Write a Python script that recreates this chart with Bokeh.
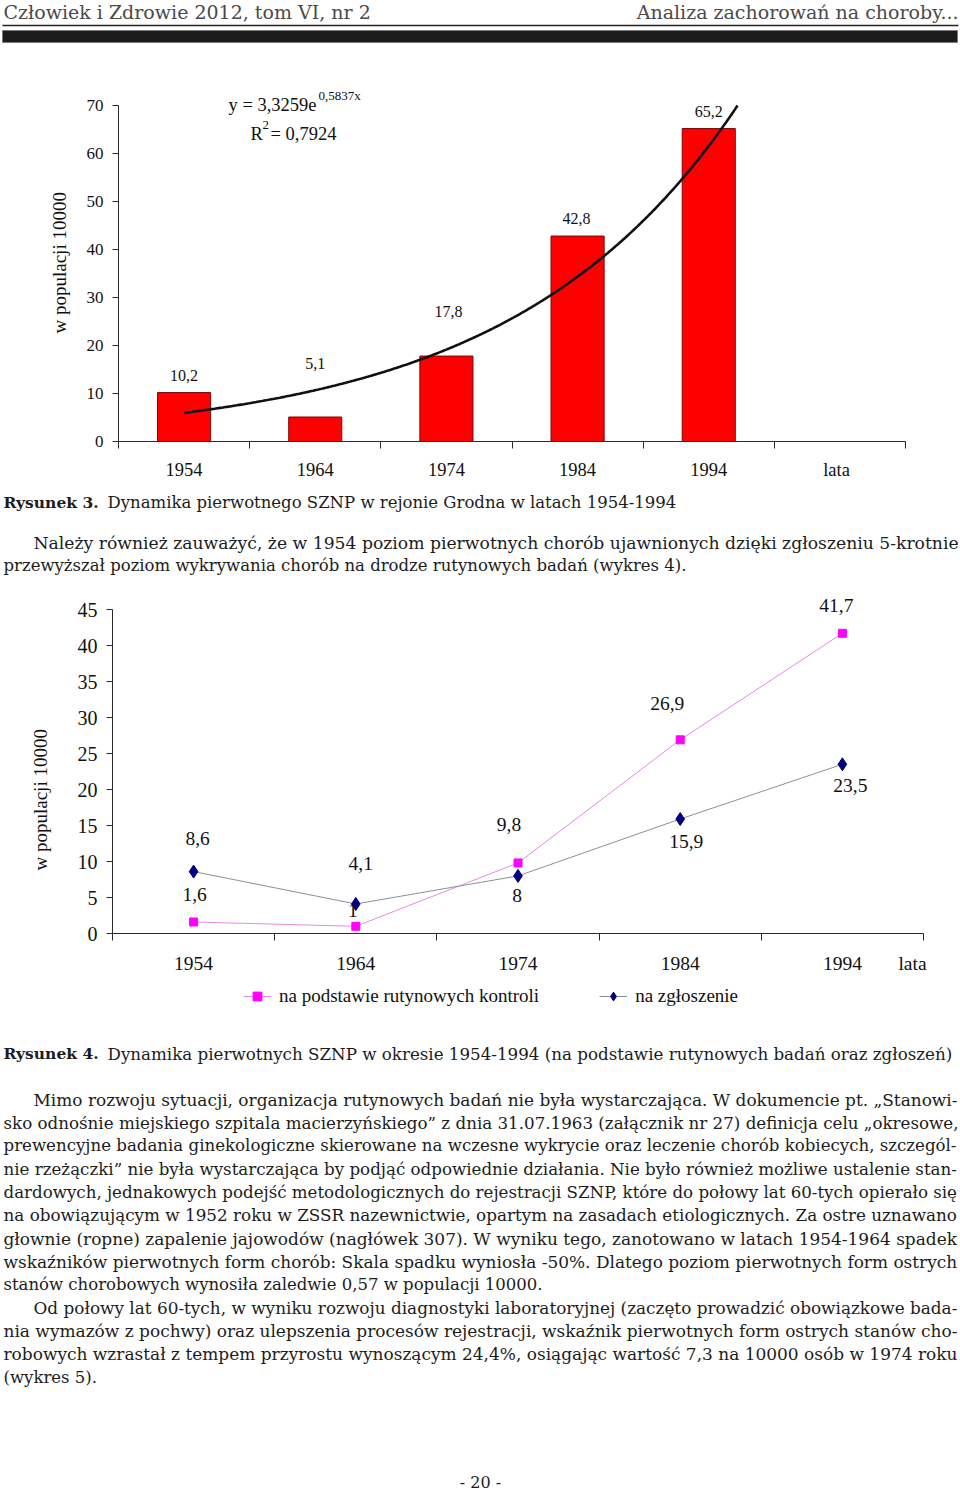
import numpy as np
from bokeh.plotting import figure
from bokeh.models import Range1d, FixedTicker, Label, Legend, LegendItem, Title
from bokeh.embed import file_html
from bokeh.resources import INLINE
from bokeh.core.properties import value

# ---------------- data ----------------
years = ["1954", "1964", "1974", "1984", "1994"]
x_unit_label = "lata"
y_title = "w populacji 10000"

# Rysunek 3 (bars + exponential trend)
fig3_values = [10.2, 5.1, 17.8, 42.8, 65.2]
fig3_labels = ["10,2", "5,1", "17,8", "42,8", "65,2"]
fig3_yticks = [0, 10, 20, 30, 40, 50, 60, 70]
trend_a = 3.3259
trend_b = 0.5837
trend_a_text = "3,3259"
trend_b_text = "0,5837x"
trend_r2_text = "0,7924"

# Rysunek 4 (two series)
routine_name = "na podstawie rutynowych kontroli"
routine_values = [1.6, 1.0, 9.8, 26.9, 41.7]
routine_labels = ["1,6", "1", "9,8", "26,9", "41,7"]
report_name = "na zgłoszenie"
report_values = [8.6, 4.1, 8.0, 15.9, 23.5]
report_labels = ["8,6", "4,1", "8", "15,9", "23,5"]
fig4_yticks = [0, 5, 10, 15, 20, 25, 30, 35, 40, 45]

# page texts
header_left = "Człowiek i Zdrowie 2012, tom VI, nr 2"
header_right = "Analiza zachorowań na choroby..."
cap3_bold = "Rysunek 3."
cap3_text = "Dynamika pierwotnego SZNP w rejonie Grodna w latach 1954-1994"
para1 = [
    "Należy również zauważyć, że w 1954 poziom pierwotnych chorób ujawnionych dzięki zgłoszeniu 5-krotnie",
    "przewyższał poziom wykrywania chorób na drodze rutynowych badań (wykres 4).",
]
cap4_bold = "Rysunek 4."
cap4_text = "Dynamika pierwotnych SZNP w okresie 1954-1994 (na podstawie rutynowych badań oraz zgłoszeń)"
para2 = [
    "Mimo rozwoju sytuacji, organizacja rutynowych badań nie była wystarczająca. W dokumencie pt. „Stanowi-",
    "sko odnośnie miejskiego szpitala macierzyńskiego” z dnia 31.07.1963 (załącznik nr 27) definicja celu „okresowe,",
    "prewencyjne badania ginekologiczne skierowane na wczesne wykrycie oraz leczenie chorób kobiecych, szczegól-",
    "nie rzeżączki” nie była wystarczająca by podjąć odpowiednie działania. Nie było również możliwe ustalenie stan-",
    "dardowych, jednakowych podejść metodologicznych do rejestracji SZNP, które do połowy lat 60-tych opierało się",
    "na obowiązującym w 1952 roku w ZSSR nazewnictwie, opartym na zasadach etiologicznych. Za ostre uznawano",
    "głownie (ropne) zapalenie jajowodów (nagłówek 307). W wyniku tego, zanotowano w latach 1954-1964 spadek",
    "wskaźników pierwotnych form chorób: Skala spadku wyniosła -50%. Dlatego poziom pierwotnych form ostrych",
    "stanów chorobowych wynosiła zaledwie 0,57 w populacji 10000.",
    "Od połowy lat 60-tych, w wyniku rozwoju diagnostyki laboratoryjnej (zaczęto prowadzić obowiązkowe bada-",
    "nia wymazów z pochwy) oraz ulepszenia procesów rejestracji, wskaźnik pierwotnych form ostrych stanów cho-",
    "robowych wzrastał z tempem przyrostu wynoszącym 24,4%, osiągając wartość 7,3 na 10000 osób w 1974 roku",
    "(wykres 5).",
]
para2_indent = [0, 9]
page_number = "- 20 -"

# ---------------- styles ----------------
W = 960
BODY = "DejaVu Serif"
CH = "Liberation Serif"
BODY_PX = 16.5
TXT_COL = "#1c1c1c"
AX_COL = "#2a2a2a"
# per-line font size factors that make justified lines reach the right margin
para1_fit = [1.042, 1.0]
para2_fit = [1.027, 1.013, 1.008, 1.011, 1.009, 1.018, 1.029, 1.028, 1.0,
             1.023, 1.029, 1.029, 1.0]
ROUTINE_LINE = dict(line_color="#E28BE2", line_width=1)
ROUTINE_MARK = dict(marker="square", size=8, fill_color="#FF00FF", line_color="#FF00FF")
REPORT_LINE = dict(line_color="#8E8E9E", line_width=1)
REPORT_MARK = dict(marker="diamond", size=13, fill_color="#000080", line_color="#000080")


def text_fig(h):
    p = figure(width=W, height=h, x_range=Range1d(0, W), y_range=Range1d(h, 0),
               output_backend="svg", toolbar_location=None, tools="",
               x_axis_location=None, y_axis_location=None, min_border=0)
    p.grid.visible = False
    p.outline_line_color = None
    return p


def txt(p, x, y, s, size=f"{BODY_PX}px", font=BODY, color=TXT_COL, style="normal", align="left"):
    p.text(x=[x], y=[y], text=[s], text_font=value(font), text_font_size=size,
           text_color=color, text_font_style=style, text_align=align,
           text_baseline="middle")


def chart_fig(h, xr, yr, bl, br, bt, bb):
    p = figure(width=W, height=h, x_range=xr, y_range=yr, output_backend="svg",
               toolbar_location=None, tools="", min_border_left=bl, min_border_right=br,
               min_border_top=bt, min_border_bottom=bb)
    p.grid.visible = False
    p.outline_line_color = None
    p.background_fill_color = "white"
    return p


def style_axes(p, n_slots, yticks, xtick_size, ytick_size, x_standoff, unit_x):
    xa = p.xaxis[0]
    major = [i + 1 for i in range(len(years))] + [unit_x]
    xa.ticker = FixedTicker(ticks=major, minor_ticks=[k + 0.5 for k in range(n_slots + 1)])
    overrides = {i + 1: y for i, y in enumerate(years)}
    overrides[unit_x] = x_unit_label
    xa.major_label_overrides = overrides
    xa.major_tick_out = 0
    xa.major_tick_in = 0
    xa.minor_tick_out = 7
    xa.minor_tick_in = 0
    xa.axis_line_color = AX_COL
    xa.minor_tick_line_color = AX_COL
    xa.major_label_standoff = x_standoff
    xa.major_label_text_font = CH
    xa.major_label_text_font_size = xtick_size
    xa.major_label_text_color = "#111111"
    ya = p.yaxis[0]
    ya.ticker = FixedTicker(ticks=yticks, minor_ticks=[])
    ya.bounds = (yticks[0], yticks[-1])
    ya.major_tick_out = 6
    ya.major_tick_in = 0
    ya.minor_tick_out = 0
    ya.minor_tick_in = 0
    ya.axis_line_color = AX_COL
    ya.major_tick_line_color = AX_COL
    ya.major_label_standoff = 9
    ya.major_label_text_font = CH
    ya.major_label_text_font_size = ytick_size
    ya.major_label_text_color = "#111111"


def lab(p, x, y, s, size, align="center"):
    p.add_layout(Label(x=x, y=y, text=s, text_font=CH, text_font_size=size,
                       text_color="#111111", text_align=align, text_baseline="middle"))


def ytitle(p, offset, standoff):
    p.add_layout(Title(text=y_title, align="left", offset=offset, standoff=standoff,
                       text_font=CH, text_font_size="19px", text_font_style="normal",
                       text_color="#111111"), "left")


# ---------------- header ----------------
hdr = text_fig(45)
txt(hdr, 3, 11, header_left, size="19px", color="#4a4a4a")
txt(hdr, 958, 11, header_right, size="19px", color="#4a4a4a", align="right")
hdr.segment(x0=[2], y0=[25], x1=[958], y1=[25], line_color="#222222", line_width=1.5)
hdr.quad(left=[2], right=[957], top=[30], bottom=[42], fill_color="#1b1b1b", line_color="#7a7a7a")

# ---------------- Rysunek 3 chart ----------------
n3 = len(years) + 1
S1X, S1Y = 787.0 / n3, 4.8          # px per slot, px per unit
c1 = chart_fig(445, Range1d(0.5, n3 + 0.5), Range1d(0, 356.0 / S1Y), 118, 55, 40, 49)
style_axes(c1, n3, fig3_yticks, "18.5px", "17px", 11, round(0.5 + 718 / S1X, 3))
x3 = [i + 1 for i in range(len(years))]
c1.vbar(x=x3, top=fig3_values, width=0.405, bottom=0, fill_color="#FF0000",
        line_color="#7a0a0a", line_width=1)
tx = np.linspace(1, np.log(fig3_yticks[-1] / trend_a) / trend_b, 400)
c1.line(tx, trend_a * np.exp(trend_b * tx), line_color="#111111", line_width=2.6)

bar_label_dy = [17, 54, 45, 18, 17]
bar_label_dx = [0, 0, 2, -1, 0]
for i, (v, s) in enumerate(zip(fig3_values, fig3_labels)):
    lab(c1, x3[i] + bar_label_dx[i] / S1X, v + bar_label_dy[i] / S1Y, s, "16px")


def p1(px, py):
    return 0.5 + (px - 118) / S1X, (441 - py) / S1Y


for (px, py, s, sz) in [(228, 104, "y = " + trend_a_text + "e", "18.5px"),
                        (318, 95, trend_b_text, "13px"),
                        (250, 133, "R", "18.5px"),
                        (262, 124, "2", "13px"),
                        (270, 133, " = " + trend_r2_text, "18.5px")]:
    ex, ey = p1(px, py)
    lab(c1, ex, ey, s, sz, align="left")
ytitle(c1, 108, 28)

# ---------------- caption 3 + paragraph ----------------
t1 = text_fig(100)
txt(t1, 3, 12, cap3_bold, style="bold", size="15.5px")
txt(t1, 107, 12, cap3_text)
for i, line in enumerate(para1):
    txt(t1, 33 if i == 0 else 3, 52 + 23 * i, line, size=f"{BODY_PX * para1_fit[i]:.2f}px")

# ---------------- Rysunek 4 chart ----------------
n4 = len(years)
S2X, S2Y = 811.0 / n4, 7.2
c2 = chart_fig(393, Range1d(0.5, n4 + 0.5), Range1d(0, 343.0 / S2Y), 112, 37, 0, 50)
style_axes(c2, n4, fig4_yticks, "19.5px", "20px", 12, round(0.5 + 800 / S2X, 3))
x4 = [i + 1 for i in range(n4)]
c2.line(x4, routine_values, **ROUTINE_LINE)
c2.scatter(x4, routine_values, **ROUTINE_MARK)
c2.line(x4, report_values, **REPORT_LINE)
c2.scatter(x4, report_values, **REPORT_MARK)

routine_dx = [1, -3, -9, -13, -6]
routine_dy = [27, 16, 38, 36, 28]
report_dx = [4, 5, -1, 6, 8]
report_dy = [33, 40, -20, -22, -21]
for i in range(n4):
    lab(c2, x4[i] + routine_dx[i] / S2X, routine_values[i] + routine_dy[i] / S2Y,
        routine_labels[i], "19.5px")
    lab(c2, x4[i] + report_dx[i] / S2X, report_values[i] + report_dy[i] / S2Y,
        report_labels[i], "19.5px")
ytitle(c2, 63, 48)

# ---------------- legend + caption 4 + text ----------------
T2H = 509
t2 = text_fig(T2H)
# legend-only renderers: a single point placed off the visible area
lr1 = t2.line(x=[-100, -90], y=[-100, -100], **ROUTINE_LINE)
lr2 = t2.scatter(x=[-100], y=[-100], **ROUTINE_MARK)
lz1 = t2.line(x=[-100, -90], y=[-100, -100], **REPORT_LINE)
lz2 = t2.scatter(x=[-100], y=[-100], **REPORT_MARK)
leg = Legend(items=[LegendItem(label=routine_name, renderers=[lr1, lr2]),
                    LegendItem(label=report_name, renderers=[lz1, lz2])],
             orientation="horizontal", location=(243, T2H - 24), padding=0, margin=0,
             glyph_width=28, glyph_height=22, label_height=20, label_standoff=8,
             spacing=60, border_line_color=None, background_fill_alpha=0,
             label_text_font=CH, label_text_font_size="19px", label_text_color="#111111")
t2.add_layout(leg, "center")

txt(t2, 3, 70, cap4_bold, style="bold", size="15.5px")
txt(t2, 107, 70, cap4_text, size="16.7px")
for i, line in enumerate(para2):
    x0 = 33 if i in para2_indent else 3
    txt(t2, x0, 116 + 23.17 * i, line, size=f"{BODY_PX * para2_fit[i]:.2f}px")
txt(t2, 480, 499, page_number, size="16px", align="center")

with open("out.html", "w") as f:
    f.write(file_html([hdr, c1, t1, c2, t2], INLINE))
